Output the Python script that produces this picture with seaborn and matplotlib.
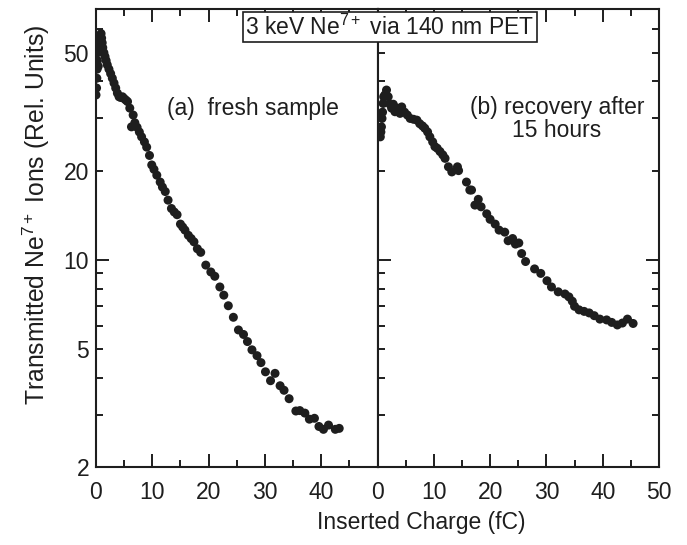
import numpy as np
import pandas as pd
import matplotlib
matplotlib.use("Agg")
import matplotlib.pyplot as plt
from matplotlib.ticker import FixedLocator, NullFormatter, FixedFormatter
import seaborn as sns

# ---------------- data ----------------
fresh_x = [0.0, 0.1, 0.15, 0.2, 0.25, 0.3, 0.4, 0.5, 0.6, 0.7, 0.8, 0.9, 1.0, 1.1, 1.2,
           1.4, 1.6, 1.8, 2.0, 2.3, 2.6, 2.9, 3.2, 3.5, 3.8, 4.1, 4.4, 4.7, 5.0, 5.3,
           5.6, 6.0, 6.3, 6.6, 6.9, 7.3, 7.7, 8.1, 8.6, 9.0, 9.5, 9.9, 10.3, 10.8,
           11.4, 11.8, 12.3, 12.8, 13.4, 13.9, 14.4, 15.0, 15.4, 15.8, 16.4, 16.9,
           17.4, 18.0, 18.6, 19.5, 20.4, 21.1, 22.0, 22.7, 23.5, 24.4, 25.3, 26.2,
           26.9, 27.7, 28.6, 29.3, 30.1, 31.0, 31.8, 32.7, 33.4, 34.3, 35.5, 36.2,
           37.1, 37.9, 38.8, 39.6, 40.4, 41.3, 42.5, 43.2]
fresh_y = [36, 38, 41, 44, 47, 50, 45, 53, 55, 56, 57, 58, 56, 54, 52,
           50, 48.5, 47, 45.5, 44, 42.5, 41, 39.5, 38, 36.5, 35.5, 35.3, 35.5, 35.0, 34.6,
           34.2, 32.5, 28.1, 30.8, 29.0, 28.0, 27.0, 26.0, 25.0, 24.0, 22.5, 20.9, 20.2, 19.3,
           18.3, 17.6, 17.0, 15.9, 14.9, 14.5, 14.2, 13.2, 12.9, 12.6, 12.1, 11.8,
           11.5, 10.9, 10.6, 9.6, 9.1, 8.8, 8.1, 7.6, 7.0, 6.4, 5.8, 5.6,
           5.3, 4.97, 4.75, 4.5, 4.19, 3.91, 4.14, 3.76, 3.63, 3.40, 3.09, 3.10,
           3.04, 2.90, 2.92, 2.74, 2.68, 2.77, 2.68, 2.70]

recov_x = [0.5, 0.6, 0.7, 0.8, 0.9, 1.0, 1.1, 1.3, 1.6, 1.9, 2.2, 2.5, 2.8, 3.1, 3.5,
           4.0, 4.3, 4.8, 5.3, 5.8, 6.4, 7.0, 7.5, 8.0, 8.4, 8.9, 9.3, 9.8, 10.2,
           10.6, 11.1, 11.6, 12.0, 12.6, 13.2, 14.2, 14.4, 15.8, 16.4, 16.7, 17.3,
           17.9, 18.4, 19.4, 20.0, 20.9, 21.6, 22.6, 23.2, 24.0, 24.5, 25.1, 25.6,
           26.3, 27.9, 29.0, 30.1, 30.9, 32.1, 33.3, 34.0, 34.6, 35.0, 35.8, 36.7,
           37.6, 38.5, 39.5, 40.7, 41.6, 42.6, 43.5, 44.4, 45.4]
recov_y = [26.0, 27.0, 28.1, 30.0, 31.5, 33.7, 35.5, 36.0, 37.4, 35.5, 33.5, 32.5, 33.5, 31.6, 32.5,
           31.2, 32.8, 31.5, 30.8, 30.0, 29.8, 29.6, 28.8, 28.3, 27.8, 27.0, 26.0, 25.0, 24.1,
           23.8, 23.2, 22.6, 22.0, 20.6, 19.8, 20.6, 20.0, 18.3, 17.2, 17.2, 15.3,
           16.0, 15.1, 14.3, 13.7, 13.2, 12.6, 12.4, 11.6, 11.8, 11.3, 11.4, 10.5,
           9.87, 9.32, 9.0, 8.5, 8.1, 7.8, 7.67, 7.5, 7.25, 6.97, 6.78, 6.70,
           6.62, 6.48, 6.31, 6.27, 6.15, 6.03, 6.12, 6.31, 6.10]

panel_labels = ["(a)  fresh sample", "(b) recovery after\n15 hours"]
title_text = "3 keV Ne$^{7+}$ via 140 nm PET"
ylabel_text = "Transmitted Ne$^{7+}$ Ions (Rel. Units)"
xlabel_text = "Inserted Charge (fC)"
y_major = [2, 5, 10, 20, 50]
y_minor = [3, 4, 6, 7, 8, 9, 30, 40, 60, 70]

# ---------------- style ----------------
sns.set_theme(style="ticks")
plt.rcParams["font.family"] = ["Liberation Sans", "DejaVu Sans"]
plt.rcParams["mathtext.fontset"] = "custom"
plt.rcParams["mathtext.rm"] = "Liberation Sans"
plt.rcParams["mathtext.it"] = "Liberation Sans:italic"
plt.rcParams["mathtext.default"] = "regular"
FS = 16.5
ink = "#1e1e1e"

W, H = 687, 545
fig = plt.figure(figsize=(W / 100, H / 100), dpi=100)
top, bot = 9, 467
axL = fig.add_axes([96 / W, 1 - bot / H, (377.5 - 96) / W, (bot - top) / H])
axR = fig.add_axes([377.5 / W, 1 - bot / H, (659 - 377.5) / W, (bot - top) / H])

dfL = pd.DataFrame({"x": fresh_x, "y": fresh_y})
dfR = pd.DataFrame({"x": recov_x, "y": recov_y})
sns.scatterplot(data=dfL, x="x", y="y", ax=axL, color=ink, s=42, edgecolor="none", linewidth=0)
sns.scatterplot(data=dfR, x="x", y="y", ax=axR, color=ink, s=42, edgecolor="none", linewidth=0)

for i, ax in enumerate([axL, axR]):
    ax.set_yscale("log")
    ax.set_ylim(2, 70.2)
    ax.set_xlim(0, 50)
    ax.set_xlabel("")
    ax.set_ylabel("")
    for sp in ax.spines.values():
        sp.set_visible(True)
        sp.set_linewidth(1.5)
        sp.set_color(ink)
    ax.xaxis.set_major_locator(FixedLocator([0, 10, 20, 30, 40, 50]))
    ax.xaxis.set_minor_locator(FixedLocator([5, 15, 25, 35, 45]))
    ax.yaxis.set_major_locator(FixedLocator(y_major))
    ax.yaxis.set_minor_locator(FixedLocator(y_minor))
    ax.yaxis.set_minor_formatter(NullFormatter())
    ax.tick_params(axis="both", which="major", direction="in", length=9.5, width=1.4,
                   colors=ink, labelsize=FS, labelcolor=ink, top=True, right=True)
    ax.tick_params(axis="both", which="minor", direction="in", length=5, width=1.4,
                   colors=ink, top=True, right=True)
    ax.tick_params(axis="x", which="major", pad=10)
    ax.tick_params(axis="y", which="major", pad=5)

# only the 10 tick is long on the y axis
for ax in [axL, axR]:
    for t, v in zip(ax.yaxis.get_major_ticks(), y_major):
        if v != 10:
            t.tick1line.set_markersize(5)
            t.tick2line.set_markersize(5)

axL.set_xticklabels(["0", "10", "20", "30", "40", ""])
axL.yaxis.set_major_formatter(FixedFormatter([str(v) for v in y_major]))
axL.tick_params(axis="y", which="both", right=False)
axR.set_xticklabels(["0", "10", "20", "30", "40", "50"])
axR.tick_params(axis="y", which="both", labelleft=False, left=True)

# panel annotations
fig.text(253 / W, 1 - 108 / H, panel_labels[0], fontsize=FS, color=ink,
         ha="center", va="center")
fig.text(557 / W, 1 - 119 / H, panel_labels[1], fontsize=FS, color=ink,
         ha="center", va="center", multialignment="center", linespacing=1.05)

# title box
fig.text(390 / W, 1 - 27 / H, title_text, fontsize=FS, color=ink, ha="center", va="center",
         bbox=dict(boxstyle="square,pad=0.12", facecolor="white", edgecolor=ink, linewidth=1.2))

# axis labels
fig.text(36 / W, 1 - 215 / H, ylabel_text, fontsize=17.8, color=ink, rotation=90,
         ha="center", va="center")
fig.text(421 / W, 1 - 522 / H, xlabel_text, fontsize=FS, color=ink, ha="center", va="center")

fig.savefig("out.png", dpi=100)
